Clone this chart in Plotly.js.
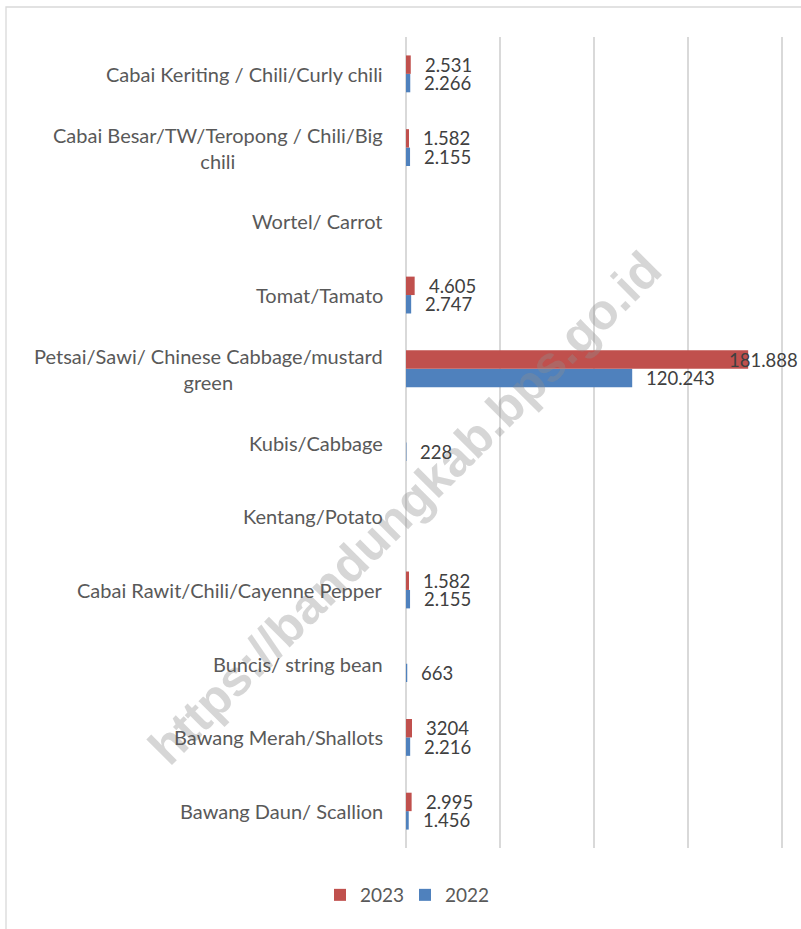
<!DOCTYPE html>
<html>
<head>
<meta charset="utf-8">
<script src="https://cdn.plot.ly/plotly-3.0.1.min.js"></script>
<style>html,body{margin:0;padding:0;background:#fff;}#chart{width:801px;height:929px;}</style>
</head>
<body>
<div id="chart"></div>
<script>
// Categories, bottom to top
const categories = [
  "Bawang Daun/ Scallion",
  "Bawang Merah/Shallots",
  "Buncis/ string bean",
  "Cabai Rawit/Chili/Cayenne Pepper",
  "Kentang/Potato",
  "Kubis/Cabbage",
  "Petsai/Sawi/ Chinese Cabbage/mustard green",
  "Tomat/Tamato",
  "Wortel/ Carrot",
  "Cabai Besar/TW/Teropong / Chili/Big chili",
  "Cabai Keriting / Chili/Curly chili"
];
const tickLabels = [
  "Bawang Daun/ Scallion",
  "Bawang Merah/Shallots",
  "Buncis/ string bean",
  "Cabai Rawit/Chili/Cayenne Pepper",
  "Kentang/Potato",
  "Kubis/Cabbage",
  "Petsai/Sawi/ Chinese Cabbage/mustard<br>green",
  "Tomat/Tamato",
  "Wortel/ Carrot",
  "Cabai Besar/TW/Teropong / Chili/Big<br>chili",
  "Cabai Keriting / Chili/Curly chili"
];
const values2023 = [2995, 3204, null, 1582, null, null, 181888, 4605, null, 1582, 2531];
const values2022 = [1456, 2216, 663, 2155, null, 228, 120243, 2747, null, 2155, 2266];
const labels2023 = ["2.995", "3204", "", "1.582", "", "", "181.888", "4.605", "", "1.582", "2.531"];
const labels2022 = ["1.456", "2.216", "663", "2.155", "", "228", "120.243", "2.747", "", "2.155", "2.266"];
const xTicks = [0, 50000, 100000, 150000, 200000];

const W = 801, H = 929;
const M = {l: 406, r: 15, t: 37, b: 81};
const PW = W - M.l - M.r, PH = H - M.t - M.b;
const xMax = 200000;
const xRangeMax = xMax * 1.01;
const bargap = 0.5;
const slot = PH / categories.length;
const barH = slot * (1 - bargap) / 2;

const RED = "#C0504D", BLUE = "#4F81BD";
const FONT = "Lato, 'Open Sans', sans-serif";

const traces = [
  {type: "bar", orientation: "h", name: "2022", y: categories, x: values2022,
   marker: {color: BLUE}, hoverinfo: "skip"},
  {type: "bar", orientation: "h", name: "2023", y: categories, x: values2023,
   marker: {color: RED}, hoverinfo: "skip"}
];

const annotations = [];
// watermark (drawn first, behind texts)
annotations.push({xref: "paper", yref: "paper", x: (405 - M.l) / PW, y: (H - M.b - 508) / PH,
  xanchor: "center", yanchor: "middle", text: "<b>https://bandungkab.bps.go.id</b>", textangle: -45,
  showarrow: false, font: {family: "'Liberation Sans', Arial, sans-serif", size: 50, color: "rgba(140,140,140,0.36)"}});
// category labels
categories.forEach((c, i) => {
  annotations.push({xref: "paper", yref: "y", x: 0, y: c, xanchor: "right", yanchor: "middle",
    xshift: -21, text: tickLabels[i], showarrow: false, align: "center",
    font: {family: FONT, size: 20, color: "#595959"}});
});
// data labels
function addLabels(vals, labs, shift) {
  vals.forEach((v, i) => {
    if (v === null || labs[i] === "") return;
    const endPx = v / xRangeMax * PW;
    const estW = labs[i].length * 9.8;
    const ann = {xref: "x", yref: "y", x: v, y: categories[i], xanchor: "left", yanchor: "middle",
      xshift: 12, yshift: shift, text: labs[i], showarrow: false, height: 18,
      font: {family: FONT, size: 18.5, color: "#404040"}};
    if (M.l + endPx + 12 + estW > W - 2) {
      ann.xref = "paper"; ann.x = (W - 1 - M.l) / PW; ann.xanchor = "right"; ann.xshift = 0;
    }
    annotations.push(ann);
  });
}
addLabels(values2023, labels2023, barH / 2);
addLabels(values2022, labels2022, -barH / 2);

const layout = {
  width: W, height: H,
  margin: M,
  paper_bgcolor: "#fff", plot_bgcolor: "#fff",
  barmode: "group", bargap: bargap, bargroupgap: 0,
  showlegend: true,
  legend: {orientation: "h", traceorder: "reversed", xref: "container", yref: "container",
    x: 405 / W, y: 1 - 895 / H, xanchor: "center", yanchor: "middle",
    font: {family: FONT, size: 19, color: "#595959"}, itemwidth: 30, entrywidth: 40},
  xaxis: {range: [0, xRangeMax], tickvals: xTicks, showticklabels: false, showgrid: true,
    gridcolor: "#d9d9d9", gridwidth: 1.5, zeroline: true, zerolinecolor: "#d9d9d9", zerolinewidth: 1.5,
    showline: false, ticks: "", fixedrange: true},
  yaxis: {type: "category", categoryorder: "array", categoryarray: categories,
    showticklabels: false, showgrid: false, zeroline: false, showline: false, ticks: "", fixedrange: true},
  annotations: annotations,
  shapes: [{type: "rect", xref: "paper", yref: "paper",
    x0: (6 - M.l) / PW, x1: (W + 20 - M.l) / PW,
    y0: (H - M.b - (H + 20)) / PH, y1: (H - M.b - 7) / PH,
    line: {color: "#d9d9d9", width: 1.3}, fillcolor: "rgba(0,0,0,0)", layer: "below"}],
  font: {family: FONT}
};

Plotly.newPlot("chart", traces, layout, {displayModeBar: false, staticPlot: true});
</script>
</body>
</html>
